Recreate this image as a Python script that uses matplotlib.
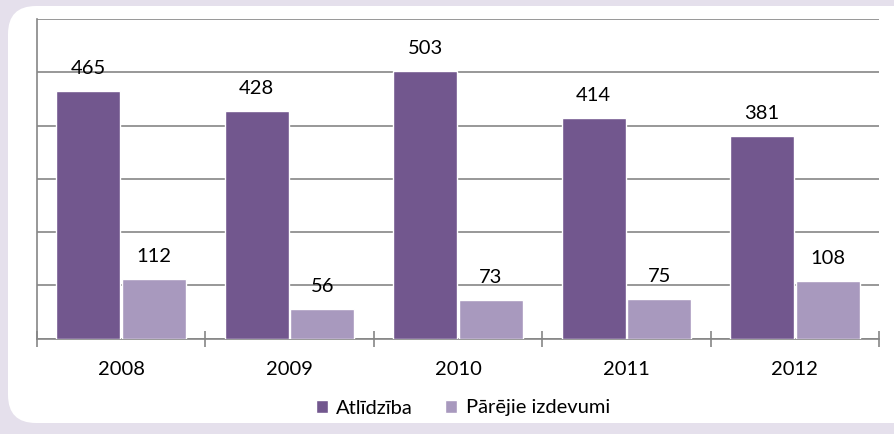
import matplotlib.pyplot as plt
from matplotlib.patches import FancyBboxPatch
import numpy as np

# data
years = ["2008", "2009", "2010", "2011", "2012"]
atlidziba = [465, 428, 503, 414, 381]
parejie = [112, 56, 73, 75, 108]
series_names = ["Atlīdzība", "Pārējie izdevumi"]

dark = "#72578E"
light = "#A899BE"
grid_gray = "#868686"

plt.rcParams["font.family"] = ["Lato", "DejaVu Sans"]

fig = plt.figure(figsize=(8.94, 4.34), dpi=100)
fig.patch.set_facecolor("#E5E0EC")

# white rounded panel (inches)
panel = FancyBboxPatch((0.08, 0.11), 9.5, 4.17,
                       boxstyle="round,pad=0,rounding_size=0.28",
                       transform=fig.dpi_scale_trans,
                       facecolor="white", edgecolor="none", zorder=-5)
fig.patches.append(panel)

W, H = 894, 434
ax = fig.add_axes([37 / W, (H - 338.5) / H, 842 / W, 319.5 / H])
ax.set_facecolor("none")

x = np.arange(len(years)) + 0.5
bw = 0.38
off = 0.195
b1 = ax.bar(x - off, atlidziba, bw, color=dark, edgecolor="white", linewidth=1, zorder=3,
            label=series_names[0])
b2 = ax.bar(x + off, parejie, bw, color=light, edgecolor="white", linewidth=1, zorder=3,
            label=series_names[1])

for bars, vals in ((b1, atlidziba), (b2, parejie)):
    for rect, v in zip(bars, vals):
        ax.annotate(str(v), (rect.get_x() + rect.get_width() / 2, v),
                    xytext=(0, 10), textcoords="offset points",
                    ha="center", va="bottom", fontsize=14.5, color="black", zorder=4)

ax.set_xlim(0, len(years))
ax.set_ylim(0, 600)
ax.set_yticks(np.arange(0, 601, 100))
ax.set_yticklabels([])
ax.tick_params(axis="y", length=0)
ax.yaxis.grid(True, color=grid_gray, linewidth=1.2, zorder=0)
ax.set_axisbelow(True)

ax.set_xticks(x)
ax.set_xticklabels(years, fontsize=14.5)
ax.tick_params(axis="x", which="major", length=0, pad=16)
ax.set_xticks(np.arange(len(years) + 1), minor=True)
ax.tick_params(axis="x", which="minor", length=11, direction="inout", color=grid_gray, width=1.2)

for s in ("top", "right"):
    ax.spines[s].set_visible(False)
for s in ("left", "bottom"):
    ax.spines[s].set_color(grid_gray)
    ax.spines[s].set_linewidth(1.2)

fig.legend(handles=[b1, b2], labels=series_names, loc="center",
           bbox_to_anchor=(463 / W, (H - 408) / H), ncol=2, frameon=False,
           fontsize=14.5, handlelength=0.6, handleheight=0.6, handletextpad=0.4,
           columnspacing=1.6)

fig.savefig("out.png", dpi=100, facecolor=fig.get_facecolor())
